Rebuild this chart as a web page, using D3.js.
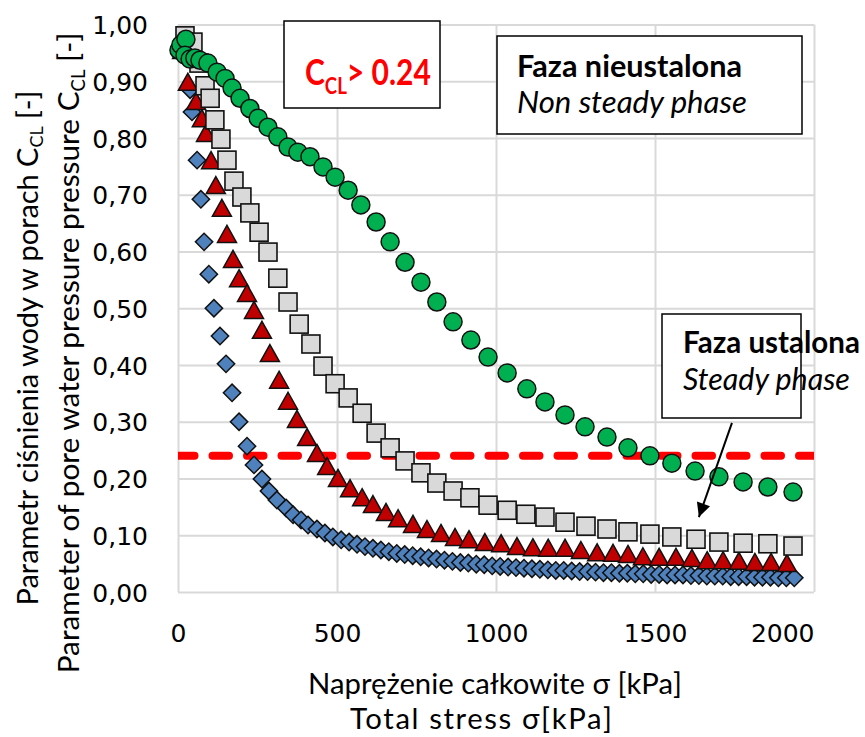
<!DOCTYPE html>
<html><head><meta charset="utf-8">
<script src="https://cdn.jsdelivr.net/npm/d3@7"></script>
<style>body{margin:0;background:#fff}svg{display:block}</style>
</head><body>
<svg id="chart" width="865" height="737"></svg>
<script>
// ---------- data ----------
const xTicks = [0, 500, 1000, 1500, 2000];
const yTicks = [0, 0.1, 0.2, 0.3, 0.4, 0.5, 0.6, 0.7, 0.8, 0.9, 1.0];
const threshold = 0.24;

const circleX = [3,9,25,22,38,53,69,94,123,148,170,195,226,252,283,314,346,377,415,456,494,535,575,623,667,714,764,814,865,921,975,1035,1097,1154,1217,1280,1349,1415,1484,1553,1626,1701,1777,1855,1934];
const circleY = [0.955,0.964,0.974,0.946,0.939,0.941,0.937,0.932,0.916,0.905,0.888,0.870,0.852,0.835,0.819,0.802,0.784,0.775,0.767,0.749,0.731,0.708,0.682,0.652,0.617,0.581,0.546,0.511,0.476,0.444,0.414,0.386,0.358,0.335,0.312,0.291,0.273,0.254,0.240,0.227,0.213,0.203,0.194,0.185,0.176];

const squareX = [22,47,66,85,101,116,135,154,176,201,226,255,283,314,346,381,418,456,494,535,579,623,667,714,764,814,865,918,975,1035,1094,1154,1217,1283,1349,1415,1484,1553,1629,1701,1777,1855,1934];
const squareY = [0.980,0.969,0.932,0.892,0.870,0.832,0.798,0.761,0.724,0.696,0.668,0.634,0.599,0.553,0.511,0.472,0.437,0.398,0.367,0.342,0.315,0.280,0.254,0.231,0.210,0.192,0.178,0.166,0.153,0.144,0.137,0.132,0.123,0.116,0.111,0.106,0.102,0.097,0.093,0.088,0.086,0.085,0.081];

const triangleX = [13,31,57,75,88,104,119,138,154,173,192,217,239,264,289,318,346,374,406,437,469,503,541,579,613,654,692,739,783,827,871,915,965,1016,1066,1116,1164,1217,1267,1318,1368,1415,1462,1513,1566,1616,1664,1714,1764,1814,1865,1915];
const triangleY = [0.955,0.899,0.865,0.835,0.809,0.761,0.717,0.677,0.631,0.587,0.553,0.527,0.497,0.462,0.421,0.374,0.337,0.305,0.273,0.245,0.222,0.201,0.183,0.167,0.155,0.141,0.130,0.120,0.111,0.104,0.097,0.093,0.088,0.086,0.081,0.079,0.078,0.078,0.074,0.070,0.069,0.067,0.063,0.062,0.062,0.060,0.056,0.056,0.055,0.053,0.053,0.051];

const diamondX = [16,38,44,60,72,82,97,113,132,151,170,192,217,239,264,286,311,340,362,387,409,437,462,487,
  513,538,563,588,613,638,663,688,713,738,763,788,813,838,863,888,913,938,963,988,1013,1038,1063,1088,1113,1138,1163,1188,1213,1238,1263,1288,1313,1338,1363,1388,1413,1438,1463,1488,1513,1538,1563,1588,1613,1638,1663,1688,1713,1738,1763,1788,1813,1838,1863,1888,1913,1938];
const diamondY = [0.955,0.885,0.846,0.761,0.692,0.617,0.560,0.500,0.451,0.402,0.351,0.300,0.257,0.224,0.199,0.178,0.162,0.148,0.136,0.127,0.118,0.111,0.104,0.097,
  0.092,0.088,0.084,0.080,0.077,0.074,0.071,0.068,0.066,0.064,0.062,0.060,0.058,0.056,0.054,0.052,0.051,0.049,0.048,0.046,0.045,0.044,0.043,0.042,0.041,0.040,0.039,0.038,0.038,0.037,0.036,0.036,0.035,0.034,0.034,0.033,0.033,0.032,0.032,0.031,0.031,0.030,0.030,0.030,0.029,0.029,0.028,0.028,0.028,0.027,0.027,0.027,0.026,0.026,0.026,0.025,0.025,0.025];

// arrow annotation (data coords): start and tip
const arrowFrom = [1742, 0.298];
const arrowTo = [1638, 0.132];

// ---------- chart ----------
const svg = d3.select('#chart');
const x = d3.scaleLinear().domain([0, 2000]).range([178, 814]);
const y = d3.scaleLinear().domain([0, 1]).range([592, 24.5]);
const W = 814 - 178, H = 592 - 24.5;

svg.append('rect').attr('width', 865).attr('height', 737).attr('fill', '#fff');

// grid
const gx = svg.append('g').attr('transform', `translate(0,${y(0)})`)
  .call(d3.axisBottom(x).tickValues(xTicks).tickSize(-H).tickFormat(''));
const gy = svg.append('g').attr('transform', `translate(${x(0)},0)`)
  .call(d3.axisLeft(y).tickValues(yTicks).tickSize(-W).tickFormat(''));
[gx, gy].forEach(g => {
  g.select('.domain').remove();
  g.selectAll('line').attr('stroke', '#d9d9d9').attr('stroke-width', 2);
});

// tick labels
const fmtY = d => d3.format('.2f')(d).replace('.', ',');
const ax = svg.append('g').attr('transform', `translate(0,${y(0)})`)
  .call(d3.axisBottom(x).tickValues(xTicks).tickSize(0).tickPadding(0).tickFormat(d3.format('d')));
ax.select('.domain').remove();
ax.selectAll('text').attr('font-family', 'DejaVu Sans').attr('font-size', 25).attr('fill', '#000')
  .attr('y', 50).attr('dy', 0);
ax.selectAll('text').filter(d => d === 2000).attr('text-anchor', 'end');

const ay = svg.append('g').attr('transform', `translate(148,0)`)
  .call(d3.axisLeft(y).tickValues(yTicks).tickSize(0).tickPadding(0).tickFormat(fmtY));
ay.select('.domain').remove();
ay.selectAll('text').attr('font-family', 'DejaVu Sans').attr('font-size', 25).attr('fill', '#000')
  .attr('x', 0).attr('dy', '0.36em');

// clip
svg.append('clipPath').attr('id', 'plotclip').append('rect')
  .attr('x', x(0)).attr('y', y(1)).attr('width', W).attr('height', H);

// threshold dashed line
svg.append('line')
  .attr('clip-path', 'url(#plotclip)')
  .attr('x1', x(0)).attr('x2', x(2000)).attr('y1', y(threshold)).attr('y2', y(threshold))
  .attr('stroke', '#ff0000').attr('stroke-width', 8).attr('stroke-linecap', 'round')
  .attr('stroke-dasharray', '16.5 18');

const stroke = '#111';
// diamonds
svg.append('g').selectAll('path').data(diamondX.map((d, i) => [d, diamondY[i]])).join('path')
  .attr('d', d3.symbol().type(d3.symbolSquare).size(150)())
  .attr('transform', d => `translate(${x(d[0])},${y(d[1])}) rotate(45)`)
  .attr('fill', '#4f81bd').attr('stroke', stroke).attr('stroke-width', 1.5);

// triangles
const tw = 19, th = 17;
const triPath = `M0,${-th/2}L${tw/2},${th/2}L${-tw/2},${th/2}Z`;
svg.append('g').selectAll('path').data(triangleX.map((d, i) => [d, triangleY[i]])).join('path')
  .attr('d', triPath)
  .attr('transform', d => `translate(${x(d[0])},${y(d[1])})`)
  .attr('fill', '#c00000').attr('stroke', stroke).attr('stroke-width', 1.5).attr('stroke-linejoin', 'miter');

// squares
svg.append('g').selectAll('rect').data(squareX.map((d, i) => [d, squareY[i]])).join('rect')
  .attr('x', d => x(d[0]) - 9).attr('y', d => y(d[1]) - 9).attr('width', 18).attr('height', 18)
  .attr('fill', '#d9d9d9').attr('stroke', stroke).attr('stroke-width', 1.6);

// circles
svg.append('g').selectAll('circle').data(circleX.map((d, i) => [d, circleY[i]])).join('circle')
  .attr('cx', d => x(d[0])).attr('cy', d => y(d[1])).attr('r', 9)
  .attr('fill', '#00b050').attr('stroke', stroke).attr('stroke-width', 1.5);

// helper: fit text to target length
function fit(t, len) {
  const cur = t.node().getComputedTextLength();
  const fs = parseFloat(t.attr('font-size'));
  t.attr('font-size', fs * len / cur);
  return t;
}

// annotation box 1
svg.append('rect').attr('x', 284).attr('y', 21).attr('width', 156).attr('height', 87)
  .attr('fill', '#fff').attr('stroke', '#000').attr('stroke-width', 1.5);
const g1 = svg.append('g');
const t1 = g1.append('text').attr('x', 0).attr('y', 0)
  .attr('font-family', 'Lato').attr('font-weight', 'bold').attr('font-size', 37).attr('fill', '#ff0000');
t1.append('tspan').text('C');
t1.append('tspan').attr('font-size', '0.62em').attr('dy', '0.38em').text('CL');
t1.append('tspan').attr('dy', '-0.24em').text('> 0.24');
const sx1 = 126 / t1.node().getComputedTextLength();
g1.attr('transform', `translate(305,85) scale(${sx1},1)`);

// annotation box 2
svg.append('rect').attr('x', 497).attr('y', 36).attr('width', 305).attr('height', 98)
  .attr('fill', '#fff').attr('stroke', '#000').attr('stroke-width', 1.5);
fit(svg.append('text').attr('x', 517).attr('y', 77).attr('font-family', 'Lato').attr('font-weight', 'bold')
  .attr('font-size', 25).text('Faza nieustalona'), 225);
fit(svg.append('text').attr('x', 517).attr('y', 113).attr('font-family', 'Lato').attr('font-style', 'italic')
  .attr('font-size', 25).text('Non steady phase'), 230);

// annotation box 3
svg.append('rect').attr('x', 662).attr('y', 314).attr('width', 139).attr('height', 104)
  .attr('fill', '#fff').attr('stroke', '#000').attr('stroke-width', 1.5);
fit(svg.append('text').attr('x', 683).attr('y', 353).attr('font-family', 'Lato').attr('font-weight', 'bold')
  .attr('font-size', 25).text('Faza ustalona'), 177);
fit(svg.append('text').attr('x', 683).attr('y', 390).attr('font-family', 'Lato').attr('font-style', 'italic')
  .attr('font-size', 25).text('Steady phase'), 167);

// arrow
svg.append('defs').append('marker').attr('id', 'ah').attr('viewBox', '0 0 10 10')
  .attr('refX', 10).attr('refY', 5).attr('markerUnits', 'userSpaceOnUse')
  .attr('markerWidth', 17).attr('markerHeight', 14).attr('orient', 'auto')
  .append('path').attr('d', 'M0,0L10,5L0,10Z').attr('fill', '#000');
svg.append('line')
  .attr('x1', x(arrowFrom[0])).attr('y1', y(arrowFrom[1]))
  .attr('x2', x(arrowTo[0])).attr('y2', y(arrowTo[1]))
  .attr('stroke', '#000').attr('stroke-width', 2).attr('marker-end', 'url(#ah)');

// axis titles
const xt1 = svg.append('text').attr('x', 495).attr('y', 694).attr('text-anchor', 'middle')
  .attr('font-family', 'Lato').attr('font-size', 25).text('Naprężenie całkowite σ [kPa]');
fit(xt1, 374);
svg.append('text').attr('x', 481).attr('y', 729).attr('text-anchor', 'middle')
  .attr('font-family', 'Lato').attr('font-size', xt1.attr('font-size'))
  .attr('textLength', 262).attr('lengthAdjust', 'spacing').text('Total stress σ[kPa]');

function yTitle(cx, cy, pre, len) {
  const t = svg.append('text').attr('transform', `translate(${cx},${cy}) rotate(-90)`)
    .attr('text-anchor', 'middle').attr('font-family', 'Lato').attr('font-size', 25);
  t.append('tspan').text(pre);
  t.append('tspan').attr('font-size', '0.62em').attr('dy', '0.3em').text('CL');
  t.append('tspan').attr('dy', '-0.19em').text(' [-]');
  fit(t, len);
}
yTitle(38, 348, 'Parametr ciśnienia wody w porach C', 515);
yTitle(79, 353, 'Parameter of pore water pressure  pressure C', 641);
</script>
</body></html>
